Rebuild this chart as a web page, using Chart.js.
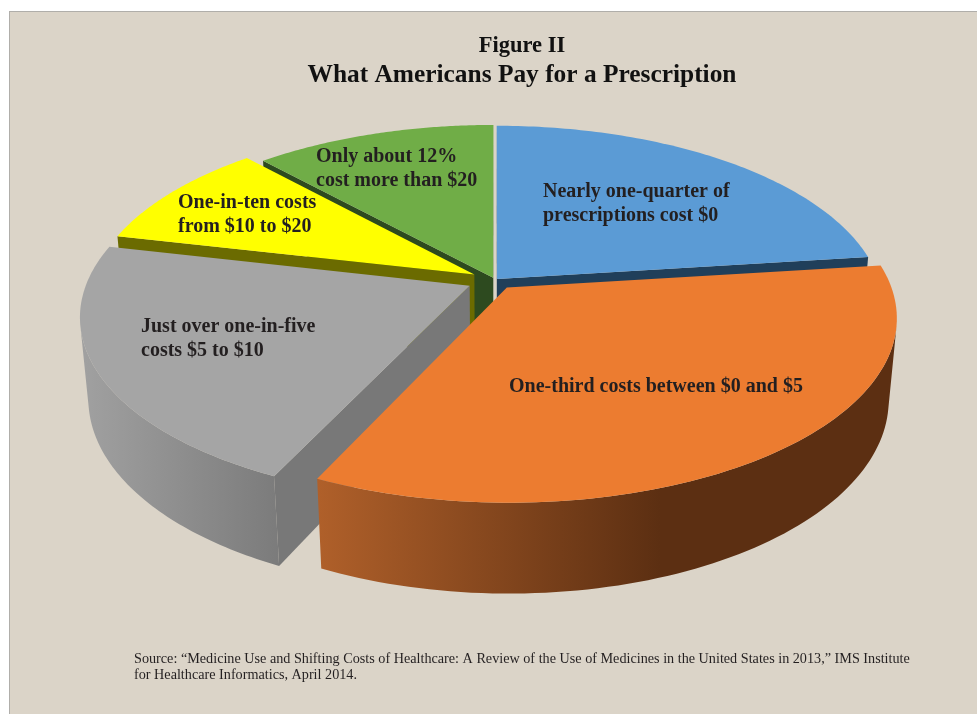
<!DOCTYPE html>
<html>
<head>
<meta charset="utf-8">
<title>What Americans Pay for a Prescription</title>
<script src="https://cdn.jsdelivr.net/npm/chart.js@4"></script>
<style>
  html, body { margin: 0; padding: 0; background: #fff; overflow: hidden; }
  #panel {
    position: absolute; left: 9px; top: 11px; width: 968px; height: 703px;
    background: #dbd4c8; border-left: 1px solid #b0aeaa; border-top: 1px solid #b0aeaa;
  }
  #wrap { position: absolute; left: 0; top: 0; width: 977px; height: 714px; }
</style>
</head>
<body>
<div id="panel"></div>
<div id="wrap"><canvas id="priceChart"></canvas></div>
<script>
// Cost bands and their share of prescriptions (%)
const categories = ['$0', '$0 to $5', '$5 to $10', '$10 to $20', 'More than $20'];
const shares = [23, 34, 21.6, 9.6, 11.8];

// Slice colours
const topColors = ['#5b9bd5', '#ec7c30', '#a5a5a5', '#ffff00', '#70ad47'];
const faceColors = ['#203f5a', '#8a4a1c', '#787878', '#6b6b00', '#2d4a1f'];
const slicePull = [3, 20, 28, 24, 5];

// Text drawn on the slices: lines, left edge, first baseline
const sliceLabels = [
    { lines: ['Nearly one-quarter of', 'prescriptions cost $0'], x: 543, y: 197 },
    { lines: ['One-third costs between $0 and $5'], x: 509, y: 392 },
    { lines: ['Just over one-in-five', 'costs $5 to $10'], x: 141, y: 332 },
    { lines: ['One-in-ten costs', 'from $10 to $20'], x: 178, y: 208 },
    { lines: ['Only about 12%', 'cost more than $20'], x: 316, y: 162 }
];
const sourceLines = [
    'Source: “Medicine Use and Shifting Costs of Healthcare: A Review of the Use of Medicines in the United States in 2013,” IMS Institute',
    'for Healthcare Informatics, April 2014.'
];

// Perspective of the tilted disc
const view = { cx: 495, cy: 280, radius: 382, tilt: 178, depth: 82, near: 0.16, sink: 0.02 };

function project(u, v, z) {
    const w = 1 - view.near * v + view.sink * z;
    return { x: view.cx + view.radius * u / w, y: view.cy + (view.tilt * v + view.depth * z) / w };
}

function tracePath(ctx, pts) {
    ctx.beginPath();
    pts.forEach((p, i) => i ? ctx.lineTo(p.x, p.y) : ctx.moveTo(p.x, p.y));
    ctx.closePath();
}

// shoelace sum, negative when a side faces the viewer
function facesViewer(pts) {
    let sum = 0;
    pts.forEach((p, i) => {
        const q = pts[(i + 1) % pts.length];
        sum += p.x * q.y - q.x * p.y;
    });
    return sum < 0;
}

function wallFill(ctx, index) {
    if (index === 1) {
        const g = ctx.createLinearGradient(316, 0, 660, 0);
        g.addColorStop(0, '#b0602a');
        g.addColorStop(1, '#5c2f12');
        return g;
    }
    if (index === 2) {
        const g = ctx.createLinearGradient(85, 0, 280, 0);
        g.addColorStop(0, '#a0a0a0');
        g.addColorStop(1, '#7b7b7b');
        return g;
    }
    return faceColors[index];
}

function drawSlice(ctx, arc, index) {
    const mid = (arc.startAngle + arc.endAngle) / 2;
    const ox = Math.cos(mid) * arc.options.offset / view.radius;
    const oy = Math.sin(mid) * arc.options.offset / view.radius;
    const steps = 90;
    const rim = [];
    for (let i = 0; i <= steps; i++) {
        const a = arc.startAngle + (arc.endAngle - arc.startAngle) * i / steps;
        rim.push({ u: Math.cos(a) + ox, v: Math.sin(a) + oy });
    }
    const top = rim.map(r => project(r.u, r.v, 0));
    const bottom = rim.map(r => project(r.u, r.v, 1));
    const apexTop = project(ox, oy, 0);
    const apexBottom = project(ox, oy, 1);

    // the two cut faces
    const cuts = [
        [apexTop, top[0], bottom[0], apexBottom],
        [top[steps], apexTop, apexBottom, bottom[steps]]
    ];
    cuts.forEach(quad => {
        if (!facesViewer(quad)) return;
        ctx.fillStyle = faceColors[index];
        tracePath(ctx, quad);
        ctx.fill();
    });

    // outer wall, only the stretch turned towards the viewer
    let first = -1, last = -1;
    for (let i = 0; i < steps; i++) {
        if (facesViewer([top[i], top[i + 1], bottom[i + 1], bottom[i]])) {
            if (first < 0) first = i;
            last = i + 1;
        }
    }
    if (first >= 0) {
        const upper = top.slice(first, last + 1);
        const lower = bottom.slice(first, last + 1).reverse();
        ctx.fillStyle = wallFill(ctx, index);
        tracePath(ctx, upper.concat(lower));
        ctx.fill();
    }

    // top of the slice
    ctx.fillStyle = arc.options.backgroundColor;
    tracePath(ctx, [apexTop].concat(top));
    ctx.fill();
}

const pie3d = {
    id: 'pie3d',
    beforeDatasetDraw(chart, args) {
        const ctx = chart.ctx;
        const arcs = args.meta.data;
        ctx.save();
        // back slices first, the front ones cover them
        [4, 0, 3, 2, 1].forEach(i => drawSlice(ctx, arcs[i], i));
        ctx.restore();
        return false;
    },
    afterDraw(chart) {
        const ctx = chart.ctx;
        ctx.save();
        ctx.textAlign = 'left';
        ctx.textBaseline = 'alphabetic';
        ctx.fillStyle = '#231f20';
        ctx.font = 'bold 20px "Liberation Serif"';
        sliceLabels.forEach(label => {
            label.lines.forEach((line, i) => ctx.fillText(line, label.x, label.y + i * 24));
        });
        ctx.font = '14.2px "Liberation Serif"';
        sourceLines.forEach((line, i) => ctx.fillText(line, 134, 663 + i * 16));
        ctx.restore();
    }
};

new Chart(document.getElementById('priceChart'), {
    type: 'pie',
    data: {
        labels: categories,
        datasets: [{
            data: shares,
            backgroundColor: topColors,
            borderWidth: 0,
            offset: slicePull
        }]
    },
    options: {
        responsive: true,
        maintainAspectRatio: false,
        animation: false,
        layout: { padding: { left: 67 } },
        plugins: {
            legend: { display: false },
            tooltip: { enabled: false },
            title: {
                display: true,
                text: 'Figure II',
                color: '#111111',
                font: { family: '"Liberation Serif"', size: 22.5, weight: 'bold' },
                padding: { top: 33, bottom: 0 }
            },
            subtitle: {
                display: true,
                text: 'What Americans Pay for a Prescription',
                color: '#111111',
                font: { family: '"Liberation Serif"', size: 25.4, weight: 'bold' },
                padding: { top: 0, bottom: 10 }
            }
        }
    },
    plugins: [pie3d]
});
</script>
</body>
</html>
